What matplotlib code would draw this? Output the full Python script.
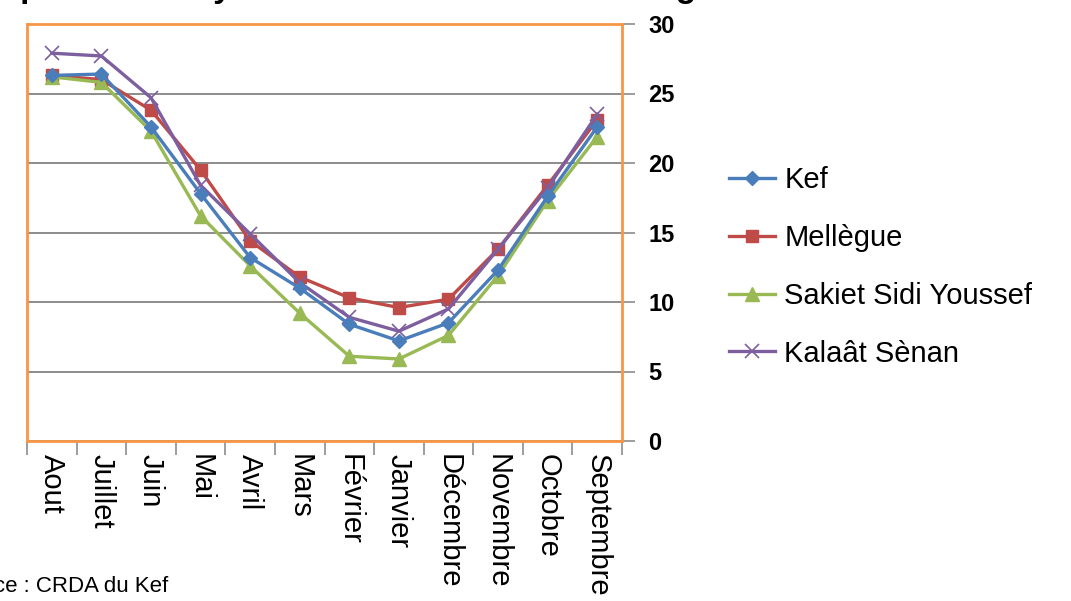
import matplotlib
matplotlib.use("Agg")
import matplotlib.pyplot as plt
import numpy as np

plt.rcParams["font.family"] = ["Liberation Sans", "DejaVu Sans"]

mois = ["Aout", "Juillet", "Juin", "Mai", "Avril", "Mars", "Février",
        "Janvier", "Décembre", "Novembre", "Octobre", "Septembre"]
kef = [26.3, 26.4, 22.6, 17.8, 13.2, 11.0, 8.4, 7.2, 8.5, 12.3, 17.6, 22.6]
mellegue = [26.3, 26.0, 23.8, 19.5, 14.4, 11.8, 10.3, 9.6, 10.2, 13.8, 18.4, 23.1]
sakiet = [26.2, 25.8, 22.3, 16.2, 12.6, 9.2, 6.1, 5.9, 7.6, 11.9, 17.3, 21.9]
kalaat = [27.9, 27.7, 24.7, 18.4, 14.9, 11.4, 8.9, 7.9, 9.5, 13.8, 18.2, 23.5]
yticks = [0, 5, 10, 15, 20, 25, 30]

C_KEF, C_MEL, C_SAK, C_KAL = "#4A7EBB", "#BE4B48", "#98B954", "#7D5FA0"
ORANGE = "#F79646"
GREY = "#8C8C8C"

fig = plt.figure(figsize=(10.71, 6.01), dpi=100)
ax = fig.add_axes([27 / 1071, 160 / 601, 595 / 1071, 417 / 601])

x = np.arange(len(mois))
ax.plot(x, kef, color=C_KEF, lw=2.4, marker="D", ms=7, label="Kef", zorder=4)
ax.plot(x, mellegue, color=C_MEL, lw=2.4, marker="s", ms=9, label="Mellègue", zorder=3)
ax.plot(x, sakiet, color=C_SAK, lw=2.4, marker="^", ms=10, label="Sakiet Sidi Youssef", zorder=3)
ax.plot(x, kalaat, color=C_KAL, lw=2.4, marker="x", ms=10, mew=1.2, label="Kalaât Sènan", zorder=3)

ax.set_xlim(-0.5, len(mois) - 0.5)
ax.set_ylim(0, 30)

# y axis on the right, grey grid
ax.yaxis.tick_right()
ax.set_yticks(yticks)
ax.set_yticklabels([str(v) for v in yticks], fontsize=17, fontweight="bold")
ax.tick_params(axis="y", length=9, width=1.2, color=GREY, pad=10)
ax.grid(axis="y", color=GREY, lw=1.4)
ax.set_axisbelow(True)

# category labels, tick marks on boundaries
ax.set_xticks(x)
ax.set_xticklabels(mois, rotation=270, fontsize=21, va="top", ha="center")
ax.tick_params(axis="x", which="major", length=0, pad=9)
ax.set_xticks(np.arange(-0.5, len(mois)), minor=True)
ax.tick_params(axis="x", which="minor", length=10, width=1.2, color=GREY)

for s in ax.spines.values():
    s.set_color(ORANGE)
    s.set_linewidth(2)

fig.legend(loc="center left", bbox_to_anchor=(704 / 1071, 1 - 267 / 601),
           frameon=False, fontsize=21, handlelength=1.6, handletextpad=0.3,
           labelspacing=1.02, borderpad=0.35)

# title cut off at the top of the image
fig.text(765 / 1071, 1 + 2.5 / 601, "Température moyenne mensuelle selon les régions",
         ha="right", va="baseline", fontsize=24, fontweight="bold")
# source note cut off on the left
fig.text(168 / 1071, 1 - 592 / 601, "Source : CRDA du Kef", ha="right",
         va="baseline", fontsize=16)

fig.savefig("out.png", dpi=100)
